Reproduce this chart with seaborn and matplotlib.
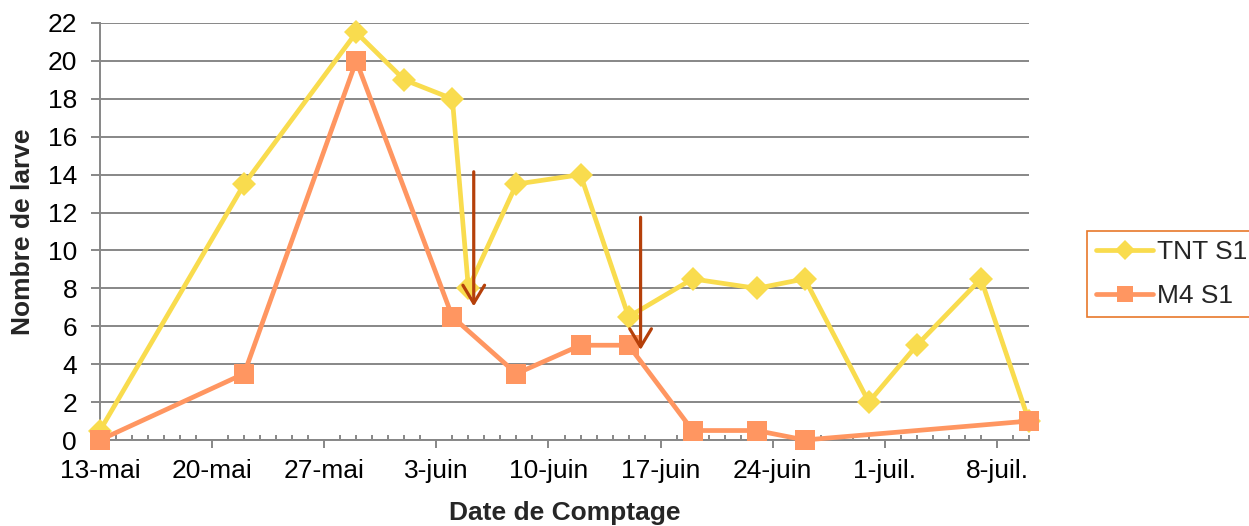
import matplotlib
matplotlib.use('Agg')
import matplotlib.pyplot as plt
import matplotlib.dates as mdates
import seaborn as sns
import pandas as pd

# ---- data ----
series_names = ['TNT S1', 'M4 S1']
dates_tnt = ['2013-05-13', '2013-05-22', '2013-05-29', '2013-06-01', '2013-06-04',
             '2013-06-05', '2013-06-08', '2013-06-12', '2013-06-15', '2013-06-19',
             '2013-06-23', '2013-06-26', '2013-06-30', '2013-07-03', '2013-07-07',
             '2013-07-10']
values_tnt = [0.5, 13.5, 21.5, 19, 18, 8, 13.5, 14, 6.5, 8.5, 8, 8.5, 2, 5, 8.5, 1]

dates_m4 = ['2013-05-13', '2013-05-22', '2013-05-29', '2013-06-04', '2013-06-08',
            '2013-06-12', '2013-06-15', '2013-06-19', '2013-06-23', '2013-06-26',
            '2013-07-10']
values_m4 = [0, 3.5, 20, 6.5, 3.5, 5, 5, 0.5, 0.5, 0, 1]

tick_dates = ['2013-05-13', '2013-05-20', '2013-05-27', '2013-06-03', '2013-06-10',
              '2013-06-17', '2013-06-24', '2013-07-01', '2013-07-08']
tick_labels = ['13-mai', '20-mai', '27-mai', '3-juin', '10-juin', '17-juin',
               '24-juin', '1-juil.', '8-juil.']
y_ticks = [0, 2, 4, 6, 8, 10, 12, 14, 16, 18, 20, 22]

arrow_dates = ['2013-06-05 08:00', '2013-06-15 18:00']
arrow_top = [14.15, 11.75]
arrow_tip = [7.05, 4.75]

x_start, x_end = '2013-05-13', '2013-07-10'

# ---- style ----
YELLOW = '#F9DC4E'
ORANGE = '#FF9661'
ARROW = '#B5400A'
GRAY = '#878787'
LEGEND_EDGE = '#E8782A'
FS = 19

sns.set_style('white')
plt.rcParams['font.family'] = ['Liberation Sans', 'DejaVu Sans']

W, H = 1249, 526
fig = plt.figure(figsize=(W / 100, H / 100), dpi=100)
ax = fig.add_axes([100 / W, 1 - 440 / H, 929 / W, 417 / H])

df_tnt = pd.DataFrame({'date': pd.to_datetime(dates_tnt), 'val': values_tnt})
df_m4 = pd.DataFrame({'date': pd.to_datetime(dates_m4), 'val': values_m4})

sns.lineplot(data=df_tnt, x='date', y='val', ax=ax, color=YELLOW, linewidth=3.4,
             marker='D', markersize=12.5, markeredgewidth=0, markeredgecolor=YELLOW,
             label=series_names[0], clip_on=False, zorder=3)
sns.lineplot(data=df_m4, x='date', y='val', ax=ax, color=ORANGE, linewidth=3.4,
             marker='s', markersize=15, markeredgewidth=0, markeredgecolor=ORANGE,
             label=series_names[1], clip_on=False, zorder=4)

for d, top, tip in zip(arrow_dates, arrow_top, arrow_tip):
    xd = mdates.date2num(pd.Timestamp(d))
    ax.annotate('', xy=(xd, tip), xytext=(xd, top),
                arrowprops=dict(arrowstyle='->,head_width=0.3,head_length=0.5',
                                color=ARROW, lw=2.3, mutation_scale=26,
                                shrinkA=0, shrinkB=0),
                zorder=6)

ax.set_xlim(pd.Timestamp(x_start), pd.Timestamp(x_end))
ax.set_ylim(0, 22)
ax.set_yticks(y_ticks)
ax.set_xticks(pd.to_datetime(tick_dates))
ax.set_xticklabels(tick_labels)
ax.xaxis.set_minor_locator(mdates.DayLocator())

ax.tick_params(axis='x', which='major', bottom=True, direction='out', length=6,
               width=1.4, color=GRAY, pad=8, labelsize=FS, labelcolor='black')
ax.tick_params(axis='x', which='minor', bottom=True, direction='in', length=3.6,
               width=1.4, color=GRAY)
ax.tick_params(axis='y', which='major', left=True, direction='out', length=6.5,
               width=1.4, color=GRAY, pad=10, labelsize=FS, labelcolor='black')

ax.yaxis.grid(True, color=GRAY, linewidth=1.4)
ax.xaxis.grid(False)
ax.set_axisbelow(True)
for s in ['top', 'right']:
    ax.spines[s].set_visible(False)
for s in ['left', 'bottom']:
    ax.spines[s].set_color(GRAY)
    ax.spines[s].set_linewidth(1.4)

ax.set_xlabel('Date de Comptage', fontsize=FS, fontweight='bold', va='center')
ax.set_ylabel('Nombre de larve', fontsize=FS, fontweight='bold', va='center')
ax.xaxis.set_label_coords(0.5, -0.175)
ax.yaxis.set_label_coords(-0.083, 0.5)

leg = ax.legend(loc='upper left', bbox_to_anchor=(1087 / W, 1 - 231 / H),
                bbox_transform=fig.transFigure, frameon=True, fancybox=False,
                fontsize=FS, handlelength=2.15, handletextpad=0.15,
                labelspacing=0.75, borderpad=0.35, borderaxespad=0,
                framealpha=1)
leg.get_frame().set_edgecolor(LEGEND_EDGE)
leg.get_frame().set_linewidth(1.2)
for h in leg.legend_handles:
    h.set_markersize(h.get_markersize() * 0.8)

fig.savefig('out.png', dpi=100)
